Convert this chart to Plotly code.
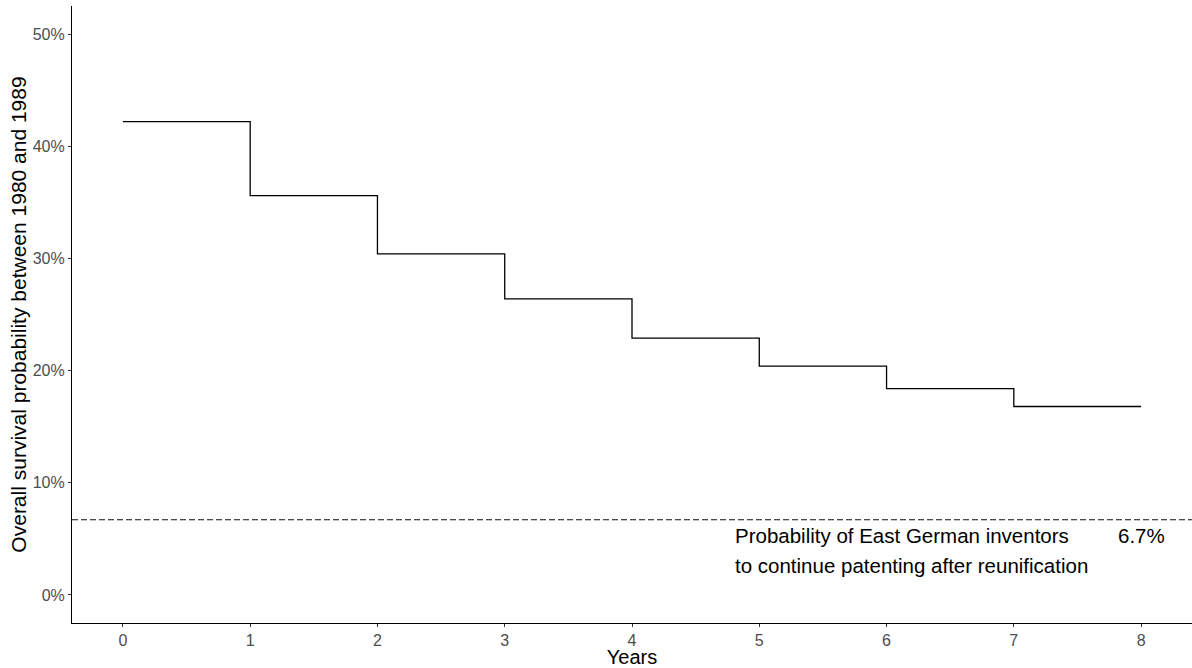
import plotly.graph_objects as go

years = [0, 1, 2, 3, 4, 5, 6, 7, 8]
survival = [0.422, 0.356, 0.304, 0.264, 0.229, 0.204, 0.184, 0.168, 0.168]
east_german_prob = 0.067
y_tick_vals = [0, 0.1, 0.2, 0.3, 0.4, 0.5]
y_tick_text = ["0%", "10%", "20%", "30%", "40%", "50%"]
x_tick_vals = [0, 1, 2, 3, 4, 5, 6, 7, 8]

fig = go.Figure()
fig.add_trace(go.Scatter(
    x=years, y=survival, mode="lines", line=dict(shape="hv", color="black", width=1.3),
    showlegend=False, hoverinfo="skip"))

fig.add_shape(type="line", xref="paper", yref="y", x0=0, x1=1,
              y0=east_german_prob, y1=east_german_prob,
              line=dict(color="#111111", width=1.1, dash="6px,3px"))

font_txt = dict(family="Liberation Sans, Arial, sans-serif", size=20.5, color="black")
fig.add_annotation(x=4.79, y=0.0527, xref="x", yref="y", text="Probability of East German inventors",
                   showarrow=False, xanchor="left", yanchor="middle", font=font_txt)
fig.add_annotation(x=4.79, y=0.026, xref="x", yref="y", text="to continue patenting after reunification",
                   showarrow=False, xanchor="left", yanchor="middle", font=font_txt)
fig.add_annotation(x=8.2, y=0.0527, xref="x", yref="y", text="6.7%",
                   showarrow=False, xanchor="right", yanchor="middle", font=font_txt)

fig.update_layout(
    width=1192, height=668,
    margin=dict(l=72, r=0, t=6, b=45),
    plot_bgcolor="white", paper_bgcolor="white",
    font=dict(family="Liberation Sans, Arial, sans-serif"),
    xaxis=dict(range=[-0.4, 8.4], tickvals=x_tick_vals, showgrid=False, zeroline=False,
               showline=True, linecolor="black", linewidth=1.1,
               ticks="outside", ticklen=3, tickcolor="#333333", tickwidth=1,
               tickfont=dict(size=16, color="#4d4d4d"),
               title=dict(text="Years", font=dict(size=20, color="black"), standoff=1)),
    yaxis=dict(range=[-0.025, 0.525], tickvals=y_tick_vals, ticktext=y_tick_text,
               showgrid=False, zeroline=False,
               showline=True, linecolor="black", linewidth=1.1,
               ticks="outside", ticklen=3, tickcolor="#333333", tickwidth=1,
               tickfont=dict(size=16, color="#4d4d4d"),
               title=dict(text="Overall survival probability between 1980 and 1989",
                          font=dict(size=21, color="black"), standoff=0)),
)

fig.write_html("out.html", config={"displayModeBar": False},
               post_script="document.body.style.margin='0';")
